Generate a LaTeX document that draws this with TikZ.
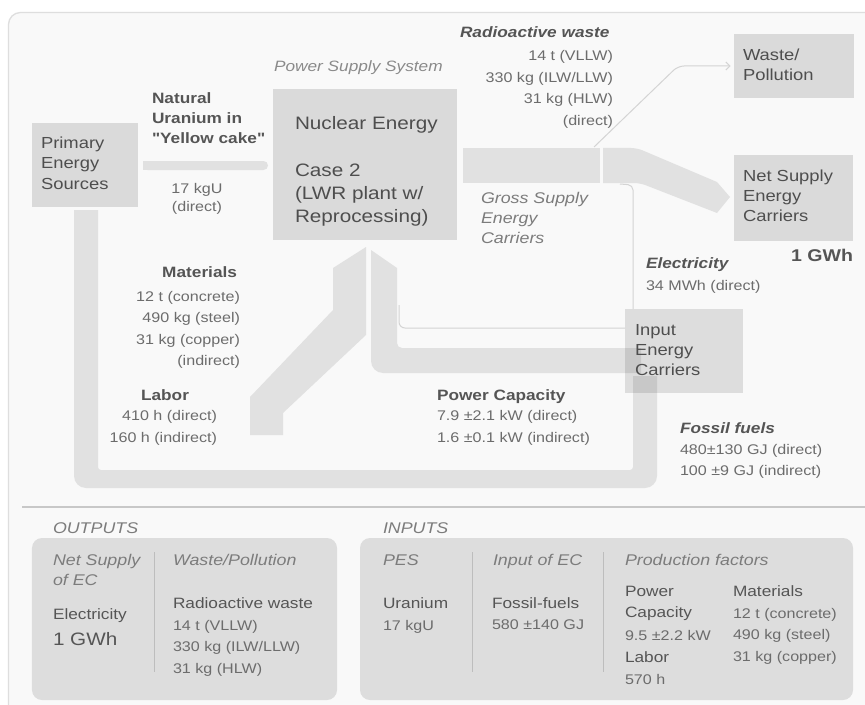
\documentclass[tikz,border=0pt]{standalone}
\usepackage{fontspec}
\setmainfont{Liberation Sans}[FakeStretch=1.15, Ligatures=TeXOff]
\usetikzlibrary{arrows.meta}

\definecolor{framebg}{HTML}{F9F9F9}
\definecolor{framebd}{HTML}{DEDEDE}
\definecolor{boxc}{HTML}{DADADA}
\definecolor{bandc}{HTML}{E1E1E1}
\definecolor{thinc}{HTML}{D4D4D4}
\definecolor{panelc}{HTML}{DDDDDD}
\definecolor{divc}{HTML}{BDBDBD}
\definecolor{sepc}{HTML}{C8C8C8}
\definecolor{labc}{HTML}{4E4E4E}
\definecolor{ttlc}{HTML}{555555}
\definecolor{valc}{HTML}{6C6C6C}
\definecolor{itc}{HTML}{7C7C7C}
\definecolor{pssc}{HTML}{8A8A8A}

% multi-line block whose baseline is the first line
\newcommand{\ml}[2]{\begin{tabular}[t]{@{}#1@{}}#2\end{tabular}}

\tikzset{
  every node/.style={inner sep=0pt, outer sep=0pt},
  box/.style={fill=boxc, draw=none},
  band/.style={fill=bandc, draw=none},
  thin/.style={draw=thinc, line width=1bp},
  boxtxt/.style={font=\fontsize{16bp}{20bp}\selectfont, text=labc},
  nuctxt/.style={font=\fontsize{18bp}{23bp}\selectfont, text=labc},
  ttl/.style={font=\bfseries\fontsize{15bp}{20bp}\selectfont, text=ttlc},
  bit/.style={font=\bfseries\itshape\fontsize{15bp}{20bp}\selectfont, text=ttlc},
  val/.style={font=\fontsize{14bp}{21.5bp}\selectfont, text=valc},
  itl/.style={font=\itshape\fontsize{15.5bp}{20bp}\selectfont, text=itc},
  ptxt/.style={font=\fontsize{15bp}{21bp}\selectfont, text=ttlc},
  pval/.style={font=\fontsize{14bp}{21.5bp}\selectfont, text=valc},
}

\begin{document}
\begin{tikzpicture}[x=1bp, y=-1bp]
\useasboundingbox (0,0) rectangle (865,705);
\clip (0,0) rectangle (865,705);
\fill[white] (0,0) rectangle (865,705);

% outer frame
\filldraw[fill=framebg, draw=framebd, line width=1.3bp, rounded corners=12bp]
  (8.5,12.5) rectangle (900,740);

% ---------- flows ----------
% loop from primary sources back to the input energy carriers
\fill[band] (74,210) [rounded corners=12bp] -- (74,488) -- (657,488)
  [sharp corners] -- (657,376) -- (633,376) [rounded corners=3bp] -- (633,470)
  -- (98,470) [sharp corners] -- (98,210) -- cycle;

% uranium feed
\fill[band, rounded corners=4.5bp] (143,161) -- (268,161) -- (268,170) -- (143,170) -- cycle;
\fill[band] (143,161) rectangle (150,170);

% left branch: materials and labor
\fill[band] (366,247) -- (366,335) -- (283,413) -- (283,435) -- (250,435)
  -- (250,397) -- (333,310) -- (333,268) -- cycle;

% right branch: power capacity
\fill[band] (371,250) -- (397,268) [rounded corners=5bp] -- (397,348)
  [sharp corners] -- (641,348) -- (641,373) [rounded corners=12bp] -- (371,373)
  [sharp corners] -- cycle;

% gross supply of energy carriers
\fill[band] (463,148) rectangle (600,183);
\fill[band] (603,148) [rounded corners=6bp] -- (637,148) [sharp corners] -- (717,182)
  -- (730,197) -- (717,213) [rounded corners=6bp] -- (640,183) [sharp corners]
  -- (603,183) -- cycle;

% ---------- boxes ----------
\node[box, minimum width=106bp, minimum height=84bp] (pes) at (85,165) {};
\node[box, minimum width=184bp, minimum height=151bp] (nuc) at (365,164.5) {};
\node[box, minimum width=120bp, minimum height=64bp] (wst) at (793.5,66) {};
\node[box, minimum width=119bp, minimum height=86bp] (net) at (793.5,198) {};
\node[fill=black, fill opacity=0.11, minimum width=118bp, minimum height=84bp] (iec) at (684,351) {};

% ---------- thin connectors ----------
\coordinate (wsrc) at (594,147);
\draw[thin, -{Straight Barb[length=4bp,width=8bp]}, rounded corners=6bp, shorten >=3bp]
  (wsrc) -- (678,66) -- (wst.west);
\coordinate (esrc) at (620,184);
\draw[thin, rounded corners=5bp] (esrc) -- (633,185) -- (iec.north -| 633,0);
\coordinate (ctop) at (399,305);
\draw[thin, rounded corners=6bp] (ctop) -- (399,328) -- (iec.west |- 0,328);

% ---------- labels, upper part ----------
\node[itl, text=pssc, font=\itshape\fontsize{15bp}{20bp}\selectfont, anchor=base west] (pss) at (274,72) {Power Supply System};

\node[boxtxt, anchor=base west] (pestx) at (41,149) {\ml{l}{Primary\\Energy\\Sources}};
\node[nuctxt, anchor=base west] (nuctx) at (295,130)
  {\ml{l}{Nuclear Energy\\ \\Case 2\\(LWR plant w/\\Reprocessing)}};
\node[boxtxt, anchor=base west] (wsttx) at (743,61) {\ml{l}{Waste/\\Pollution}};
\node[boxtxt, anchor=base west] (nettx) at (743,181) {\ml{l}{Net Supply\\Energy\\Carriers}};
\node[boxtxt, anchor=base west] (iectx) at (635,335) {\ml{l}{Input\\Energy\\Carriers}};

\node[ttl, anchor=base west] (natu) at (152,104) {\ml{l}{Natural\\Uranium in\\"Yellow cake"}};
\node[val, font=\fontsize{14bp}{18bp}\selectfont, anchor=base] (natv) at (197,193) {\ml{c}{17 kgU\\(direct)}};

\node[bit, anchor=base west] (radt) at (460,38) {Radioactive waste};
\node[val, anchor=base east] (radv) at (613,61) {\ml{r}{14 t (VLLW)\\330 kg (ILW/LLW)\\31 kg (HLW)\\(direct)}};

\node[itl, anchor=base west] (gsec) at (481,203) {\ml{l}{Gross Supply\\Energy\\Carriers}};

\node[ttl, font=\bfseries\fontsize{17bp}{20bp}\selectfont, anchor=base east] (gwh) at (853,261) {1 GWh};

\node[bit, anchor=base west] (elt) at (646,268) {Electricity};
\node[val, anchor=base west] (elv) at (646,290) {34 MWh (direct)};

\node[ttl, anchor=base east] (matt) at (237,277) {Materials};
\node[val, anchor=base east] (matv) at (240,301)
  {\ml{r}{12 t (concrete)\\490 kg (steel)\\31 kg (copper)\\(indirect)}};

\node[ttl, anchor=base] (labt) at (165,400) {Labor};
\node[val, font=\fontsize{14bp}{22bp}\selectfont, anchor=base east] (labv) at (217,420)
  {\ml{r}{410 h (direct)\\160 h (indirect)}};

\node[ttl, anchor=base west] (pct) at (437,400) {Power Capacity};
\node[val, font=\fontsize{14bp}{22bp}\selectfont, anchor=base west] (pcv) at (437,420)
  {\ml{l}{7.9 ±2.1 kW (direct)\\1.6 ±0.1 kW (indirect)}};

\node[bit, anchor=base west] (fft) at (680,433) {Fossil fuels};
\node[val, font=\fontsize{14bp}{21bp}\selectfont, anchor=base west] (ffv) at (680,454)
  {\ml{l}{480±130 GJ (direct)\\100 ±9 GJ (indirect)}};

% ---------- summary, lower part ----------
\coordinate (sepl) at (22,507);
\coordinate (sepr) at (870,507);
\draw[draw=sepc, line width=1.5bp] (sepl) -- (sepr);

\node[itl, anchor=base west] (outt) at (53,533) {OUTPUTS};
\node[itl, anchor=base west] (int) at (383,533) {INPUTS};

\node[fill=panelc, rounded corners=10bp, minimum width=305bp, minimum height=162bp] (outp) at (184.5,619) {};
\node[fill=panelc, rounded corners=10bp, minimum width=493bp, minimum height=162bp] (inp) at (606.5,619) {};

\draw[draw=divc, line width=1bp] (154,552) -- (154,672);
\draw[draw=divc, line width=1bp] (472,552) -- (472,672);
\draw[draw=divc, line width=1bp] (603,552) -- (603,672);

% outputs
\node[itl, anchor=base west] (onet) at (53,565) {\ml{l}{Net Supply\\of EC}};
\node[ptxt, anchor=base west] (oel) at (53,619) {Electricity};
\node[ptxt, font=\fontsize{18bp}{20bp}\selectfont, anchor=base west] (ogwh) at (53,645) {1 GWh};

\node[itl, anchor=base west] (owp) at (173,565) {Waste/Pollution};
\node[ptxt, anchor=base west] (orad) at (173,608) {Radioactive waste};
\node[pval, anchor=base west] (oradv) at (173,630)
  {\ml{l}{14 t (VLLW)\\330 kg (ILW/LLW)\\31 kg (HLW)}};

% inputs
\node[itl, anchor=base west] (ipes) at (383,565) {PES};
\node[ptxt, anchor=base west] (iur) at (383,608) {Uranium};
\node[pval, anchor=base west] (iurv) at (383,630) {17 kgU};

\node[itl, anchor=base west] (iec2) at (493,565) {Input of EC};
\node[ptxt, anchor=base west] (iff) at (492,608) {Fossil-fuels};
\node[pval, anchor=base west] (iffv) at (492,629) {580 ±140 GJ};

\node[itl, anchor=base west] (ipf) at (625,565) {Production factors};
\node[ptxt, anchor=base west] (ipc) at (625,596) {\ml{l}{Power\\Capacity}};
\node[pval, anchor=base west] (ipcv) at (625,640) {9.5 ±2.2 kW};
\node[ptxt, anchor=base west] (ilab) at (625,662) {Labor};
\node[pval, anchor=base west] (ilabv) at (625,684) {570 h};

\node[ptxt, anchor=base west] (imat) at (733,596) {Materials};
\node[pval, anchor=base west] (imatv) at (733,618)
  {\ml{l}{12 t (concrete)\\490 kg (steel)\\31 kg (copper)}};

\end{tikzpicture}
\end{document}
